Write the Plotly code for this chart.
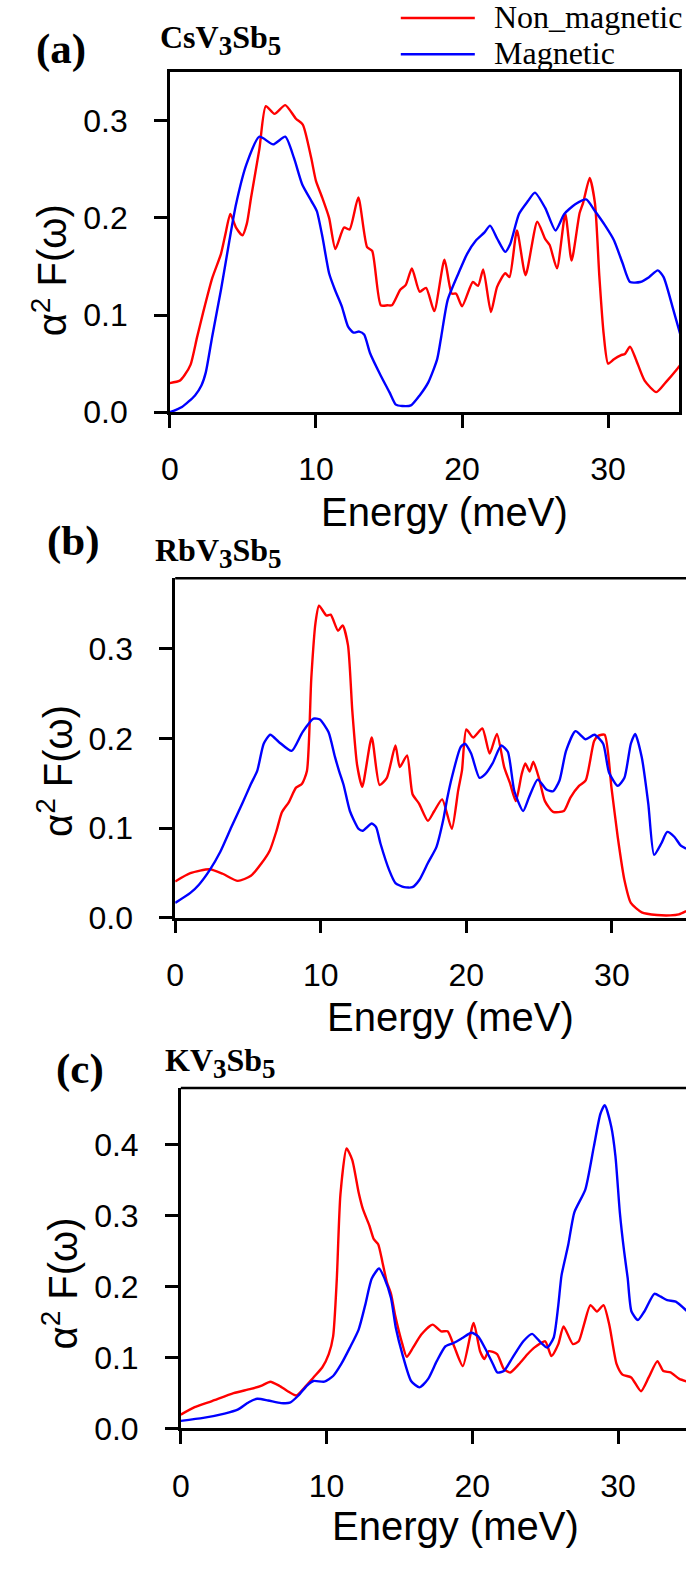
import plotly.graph_objects as go

# ---------------- Eliashberg spectral functions a2F(w) ----------------
# CsV3Sb5
cs_e_nm = [0, 0.68, 1.0, 1.42, 1.86, 2.3, 2.9, 3.5, 3.8, 4.14, 4.53, 4.97, 5.27, 5.56, 6.13,
           6.57, 7.16, 7.9, 8.63, 9.1, 9.67, 10.0, 10.4, 10.9, 11.33, 11.92, 12.3, 12.9, 13.5,
           13.85, 14.44, 14.9, 15.2, 15.77, 16.15, 16.57, 17.1, 17.54, 18.1, 18.8, 19.3, 19.6,
           20.0, 20.74, 21.1, 21.45, 21.98, 22.4, 22.96, 23.25, 23.76, 24.35, 25.15, 25.7, 26.0,
           26.5, 27.07, 27.5, 28.05, 28.3, 28.74, 29.1, 29.4, 29.7, 30.0, 30.4, 30.86, 31.15,
           31.5, 31.9, 32.5, 33.3, 33.96, 34.7, 35.0]
cs_a2f_nm = [0.030, 0.0325, 0.038, 0.049, 0.077, 0.104, 0.138, 0.163, 0.183, 0.204, 0.190, 0.182,
             0.194, 0.221, 0.271, 0.315, 0.307, 0.316, 0.302, 0.296, 0.262, 0.238, 0.222, 0.200,
             0.168, 0.190, 0.188, 0.221, 0.170, 0.166, 0.110, 0.110, 0.110, 0.126, 0.131, 0.148,
             0.124, 0.128, 0.104, 0.157, 0.122, 0.122, 0.109, 0.134, 0.130, 0.147, 0.103, 0.129,
             0.143, 0.139, 0.187, 0.141, 0.196, 0.178, 0.172, 0.148, 0.204, 0.156, 0.205, 0.216,
             0.241, 0.215, 0.140, 0.080, 0.050, 0.0546, 0.0586, 0.060, 0.0675, 0.0546, 0.0325,
             0.0207, 0.031, 0.044, 0.050]
cs_e_m = [0, 0.83, 1.72, 2.16, 2.46, 2.9, 3.5, 4.08, 4.53, 5.24, 6.13, 7.07, 7.9, 8.5, 9.07, 9.7,
          10.06, 10.45, 10.9, 11.3, 11.77, 12.2, 12.57, 12.96, 13.3, 13.7, 14.44, 15.03, 15.47,
          15.9, 16.5, 17.1, 17.7, 18.3, 18.58, 19.02, 19.76, 20.35, 20.95, 21.54, 21.92, 22.43,
          22.96, 23.3, 23.9, 24.5, 24.99, 25.7, 26.4, 27.0, 27.75, 28.5, 29.1, 29.8, 30.4, 31.0,
          31.5, 32.2, 32.8, 33.4, 33.8, 34.4, 35.0]
cs_a2f_m = [0.0, 0.0054, 0.0173, 0.0275, 0.041, 0.078, 0.126, 0.177, 0.214, 0.255, 0.2835, 0.2756,
            0.2835, 0.2614, 0.234, 0.217, 0.207, 0.180, 0.143, 0.126, 0.109, 0.088, 0.082, 0.083,
            0.080, 0.061, 0.0376, 0.0207, 0.0078, 0.0064, 0.007, 0.0173, 0.031, 0.0546, 0.078,
            0.1156, 0.143, 0.163, 0.1766, 0.185, 0.192, 0.178, 0.165, 0.173, 0.204, 0.217, 0.226,
            0.210, 0.187, 0.204, 0.214, 0.219, 0.207, 0.192, 0.177, 0.153, 0.134, 0.134, 0.139,
            0.146, 0.139, 0.109, 0.077]

# RbV3Sb5
rb_e_nm = [0, 1.04, 2.37, 3.26, 4.3, 5.2, 5.93, 6.5, 6.97, 7.33, 7.8, 8.3, 8.7, 9.05, 9.35, 9.64,
           9.88, 10.39, 10.68, 11.19, 11.5, 11.87, 12.17, 12.5, 12.85, 13.5, 14.04, 14.54, 15.13,
           15.43, 15.93, 16.3, 16.76, 17.36, 17.8, 18.34, 19.0, 19.44, 19.7, 20.0, 20.47, 21.1,
           21.6, 22.1, 22.6, 23.0, 23.4, 23.8, 24.05, 24.35, 24.6, 25.0, 25.4, 25.96, 26.7, 27.15,
           27.74, 28.2, 28.78, 29.08, 29.5, 29.97, 30.4, 30.86, 31.3, 32.05, 33.1, 34.0, 34.6,
           35.1]
rb_a2f_nm = [0.0404, 0.0496, 0.054, 0.049, 0.041, 0.0467, 0.0607, 0.075, 0.0974, 0.1176, 0.1287,
             0.145, 0.149, 0.1636, 0.267, 0.329, 0.348, 0.337, 0.338, 0.320, 0.326, 0.304, 0.230,
             0.170, 0.146, 0.201, 0.148, 0.156, 0.192, 0.168, 0.181, 0.138, 0.127, 0.108, 0.119,
             0.132, 0.099, 0.142, 0.164, 0.210, 0.201, 0.211, 0.183, 0.205, 0.168, 0.150, 0.130,
             0.160, 0.172, 0.163, 0.174, 0.155, 0.130, 0.118, 0.119, 0.134, 0.147, 0.153, 0.197,
             0.203, 0.204, 0.145, 0.090, 0.042, 0.0165, 0.006, 0.003, 0.0026, 0.0037, 0.0074]
rb_e_m = [0, 1.04, 1.63, 2.37, 3.1, 3.86, 4.6, 5.2, 5.64, 6.08, 6.53, 7.12, 8.0, 8.75, 9.5, 9.94,
          10.53, 10.98, 11.27, 11.57, 12.0, 12.6, 12.9, 13.5, 13.8, 14.1, 14.7, 15.13, 15.73,
          16.3, 16.77, 17.36, 17.95, 18.4, 18.7, 19.0, 19.6, 19.9, 20.33, 20.9, 21.3, 21.8, 22.4,
          22.85, 23.3, 23.9, 24.3, 24.9, 25.5, 25.96, 26.4, 26.85, 27.5, 28.2, 28.8, 29.4, 29.8,
          30.4, 30.86, 31.3, 31.6, 32.05, 32.5, 32.9, 33.4, 33.8, 34.3, 34.7, 35.1]
rb_a2f_m = [0.0165, 0.0276, 0.0368, 0.053, 0.0735, 0.101, 0.127, 0.149, 0.164, 0.194, 0.204,
            0.196, 0.186, 0.207, 0.222, 0.221, 0.207, 0.179, 0.163, 0.148, 0.119, 0.099, 0.097,
            0.105, 0.101, 0.0827, 0.053, 0.0386, 0.034, 0.034, 0.042, 0.061, 0.079, 0.108, 0.134,
            0.156, 0.190, 0.194, 0.183, 0.156, 0.160, 0.172, 0.192, 0.185, 0.141, 0.119, 0.134,
            0.154, 0.143, 0.141, 0.153, 0.186, 0.208, 0.199, 0.204, 0.194, 0.162, 0.147, 0.156,
            0.194, 0.205, 0.179, 0.127, 0.070, 0.083, 0.0956, 0.090, 0.081, 0.077]

# KV3Sb5
k_e_nm = [0, 0.95, 2.14, 3.62, 4.8, 5.55, 6.14, 6.74, 7.33, 7.92, 8.5, 9.1, 9.7, 10.15, 10.45,
          10.7, 10.95, 11.37, 11.76, 12.2, 12.5, 12.94, 13.24, 13.54, 13.83, 14.13, 14.42, 14.7,
          15.2, 15.5, 15.93, 16.5, 17.27, 17.86, 18.3, 18.75, 19.35, 20.09, 20.53, 20.83, 21.13,
          21.7, 22.16, 22.6, 23.2, 23.8, 24.25, 25.0, 25.43, 25.9, 26.26, 26.9, 27.3, 27.66, 28.1,
          28.55, 29.0, 29.4, 29.9, 30.3, 30.9, 31.57, 32.1, 32.7, 33.1, 33.6, 34.2, 34.7]
k_a2f_nm = [0.0195, 0.030, 0.0386, 0.0498, 0.0558, 0.0605, 0.066, 0.0605, 0.0526, 0.0465, 0.058,
            0.072, 0.086, 0.105, 0.130, 0.210, 0.330, 0.395, 0.379, 0.333, 0.309, 0.286, 0.267,
            0.260, 0.235, 0.207, 0.190, 0.160, 0.119, 0.101, 0.114, 0.1326, 0.1465, 0.137, 0.137,
            0.116, 0.088, 0.149, 0.109, 0.098, 0.109, 0.105, 0.084, 0.079, 0.0907, 0.105, 0.114,
            0.123, 0.102, 0.119, 0.144, 0.119, 0.123, 0.1465, 0.174, 0.165, 0.174, 0.146, 0.0907,
            0.076, 0.072, 0.0526, 0.072, 0.095, 0.081, 0.079, 0.070, 0.0665]
k_e_m = [0, 1.54, 3.0, 3.9, 4.66, 5.25, 5.99, 6.88, 7.48, 8.07, 8.66, 9.1, 9.85, 10.45, 11.0,
         11.6, 12.2, 12.65, 13.1, 13.6, 13.98, 14.42, 14.75, 15.2, 15.8, 16.38, 16.97, 17.56,
         18.16, 18.75, 19.35, 19.94, 20.4, 20.98, 21.42, 21.72, 22.16, 22.76, 23.5, 24.1, 24.7,
         25.13, 25.58, 25.9, 26.12, 26.57, 27.0, 27.75, 28.34, 28.79, 29.09, 29.53, 29.82, 30.12,
         30.42, 30.66, 30.92, 31.36, 31.8, 32.49, 32.93, 33.37, 33.96, 34.7]
k_a2f_m = [0.0107, 0.0149, 0.021, 0.0265, 0.037, 0.0419, 0.0395, 0.0358, 0.0363, 0.0465, 0.0605,
           0.067, 0.066, 0.074, 0.0907, 0.114, 0.1395, 0.174, 0.2116, 0.2256, 0.2116, 0.184,
           0.142, 0.105, 0.067, 0.058, 0.070, 0.095, 0.116, 0.121, 0.128, 0.135, 0.130, 0.109,
           0.0907, 0.079, 0.081, 0.100, 0.123, 0.1335, 0.121, 0.114, 0.128, 0.174, 0.216, 0.258,
           0.305, 0.337, 0.398, 0.444, 0.456, 0.426, 0.384, 0.305, 0.249, 0.212, 0.165, 0.153,
           0.165, 0.190, 0.186, 0.181, 0.179, 0.166]

x_ticks = [0, 10, 20, 30]
series_names = ["Non_magnetic", "Magnetic"]
series_colors = ["#ff0000", "#0000ff"]

W, H = 686, 1573


def fx(p):
    return p / W


def fy(p):
    return 1 - p / H


def formula(parts):
    # chemical formula in bold serif, digits written as lowered subscripts
    out = ""
    for s in parts:
        if s.isdigit():
            out += '<sub><span style="font-size:27px">' + s + "</span></sub>"
        else:
            out += s
    return "<b>" + out + "</b>"


panels = [
    dict(tag="(a)", name=["CsV", "3", "Sb", "5"], data=[(cs_e_nm, cs_a2f_nm), (cs_e_m, cs_a2f_m)],
         left=163, right=679, top=73.3, bottom=417, xmax=34.86, ymax=0.3496,
         yticks=[0.0, 0.1, 0.2, 0.3], box_right=True,
         tag_xy=(53, 50), name_xy=(151, 40), ytitle_xy=(41, 273), xtitle_xy=(441, 518)),
    dict(tag="(b)", name=["RbV", "3", "Sb", "5"], data=[(rb_e_nm, rb_a2f_nm), (rb_e_m, rb_a2f_m)],
         left=168.4, right=686, top=585, bottom=928.3, xmax=35.09, ymax=0.3785,
         yticks=[0.0, 0.1, 0.2, 0.3], box_right=False,
         tag_xy=(65, 547), name_xy=(146, 559), ytitle_xy=(46.5, 780), xtitle_xy=(447, 1029)),
    dict(tag="(c)", name=["KV", "3", "Sb", "5"], data=[(k_e_nm, k_a2f_nm), (k_e_m, k_a2f_m)],
         left=174.1, right=686, top=1100.7, bottom=1445, xmax=34.66, ymax=0.4802,
         yticks=[0.0, 0.1, 0.2, 0.3, 0.4], box_right=False,
         tag_xy=(72, 1081), name_xy=(156, 1075), ytitle_xy=(52, 1298), xtitle_xy=(452, 1544)),
]

SANS = "Liberation Sans, Arial, sans-serif"
SERIF = "Liberation Serif, Times New Roman, serif"

fig = go.Figure()
layout = dict(width=W, height=H, autosize=False, margin=dict(l=0, r=0, t=0, b=0),
              paper_bgcolor="white", plot_bgcolor="white", showlegend=False)
annotations = []
shapes = []

for i, p in enumerate(panels, start=1):
    xa = "x" if i == 1 else f"x{i}"
    ya = "y" if i == 1 else f"y{i}"
    for (e, v), nm, col in zip(p["data"], series_names, series_colors):
        fig.add_trace(go.Scatter(x=e, y=v, mode="lines", name=nm, xaxis=xa, yaxis=ya,
                                 line=dict(color=col, width=2.4, shape="spline", smoothing=0.6),
                                 cliponaxis=True))
    common = dict(showgrid=False, zeroline=False, showline=True, linecolor="black", linewidth=2.5,
                  ticks="outside", ticklen=13, tickwidth=2.5, tickcolor="black",
                  tickfont=dict(family=SANS, size=32, color="black"))
    xkey = "xaxis" if i == 1 else f"xaxis{i}"
    ykey = "yaxis" if i == 1 else f"yaxis{i}"
    layout[xkey] = dict(common, domain=[fx(p["left"]), fx(p["right"])], range=[0, p["xmax"]],
                        anchor=ya, tickvals=x_ticks, mirror=p["box_right"], ticklabelstandoff=14)
    layout[ykey] = dict(common, domain=[fy(p["bottom"]), fy(p["top"])], range=[0, p["ymax"]],
                        anchor=xa, tickvals=p["yticks"], tickformat=".1f", mirror=p["box_right"],
                        ticklabelstandoff=20)
    if not p["box_right"]:
        # top border of the frame (right side lies past the figure edge)
        shapes.append(dict(type="line", xref="paper", yref="paper",
                           x0=fx(p["left"]), x1=fx(p["right"]), y0=fy(p["top"]), y1=fy(p["top"]),
                           line=dict(color="black", width=2.5)))

    annotations += [
        dict(text="<b>" + p["tag"] + "</b>", x=fx(p["tag_xy"][0]), y=fy(p["tag_xy"][1]),
             xref="paper", yref="paper", xanchor="center", yanchor="middle", showarrow=False,
             font=dict(family=SERIF, size=43, color="black")),
        dict(text=formula(p["name"]), x=fx(p["name_xy"][0]), y=fy(p["name_xy"][1]),
             xref="paper", yref="paper", xanchor="left", yanchor="middle", showarrow=False,
             font=dict(family=SERIF, size=32, color="black")),
        dict(text="α<sup>2</sup> F(ω)", x=fx(p["ytitle_xy"][0]), y=fy(p["ytitle_xy"][1]),
             xref="paper", yref="paper", xanchor="center", yanchor="middle", showarrow=False,
             textangle=-90, font=dict(family=SANS, size=40, color="black")),
        dict(text="Energy (meV)", x=fx(p["xtitle_xy"][0]), y=fy(p["xtitle_xy"][1]),
             xref="paper", yref="paper", xanchor="center", yanchor="middle", showarrow=False,
             font=dict(family=SANS, size=40, color="black")),
    ]

# legend (top right)
for k, (nm, col) in enumerate(zip(series_names, series_colors)):
    yl = 18.3 + 36.7 * k
    shapes.append(dict(type="line", xref="paper", yref="paper", x0=fx(397), x1=fx(472),
                       y0=fy(yl), y1=fy(yl), line=dict(color=col, width=2.5)))
    annotations.append(dict(text=nm, x=fx(489), y=fy(yl - 1), xref="paper", yref="paper",
                            xanchor="left", yanchor="middle", showarrow=False,
                            font=dict(family=SERIF, size=32, color="black")))

layout["annotations"] = annotations
layout["shapes"] = shapes
fig.update_layout(**layout)
fig.write_html("out.html")
